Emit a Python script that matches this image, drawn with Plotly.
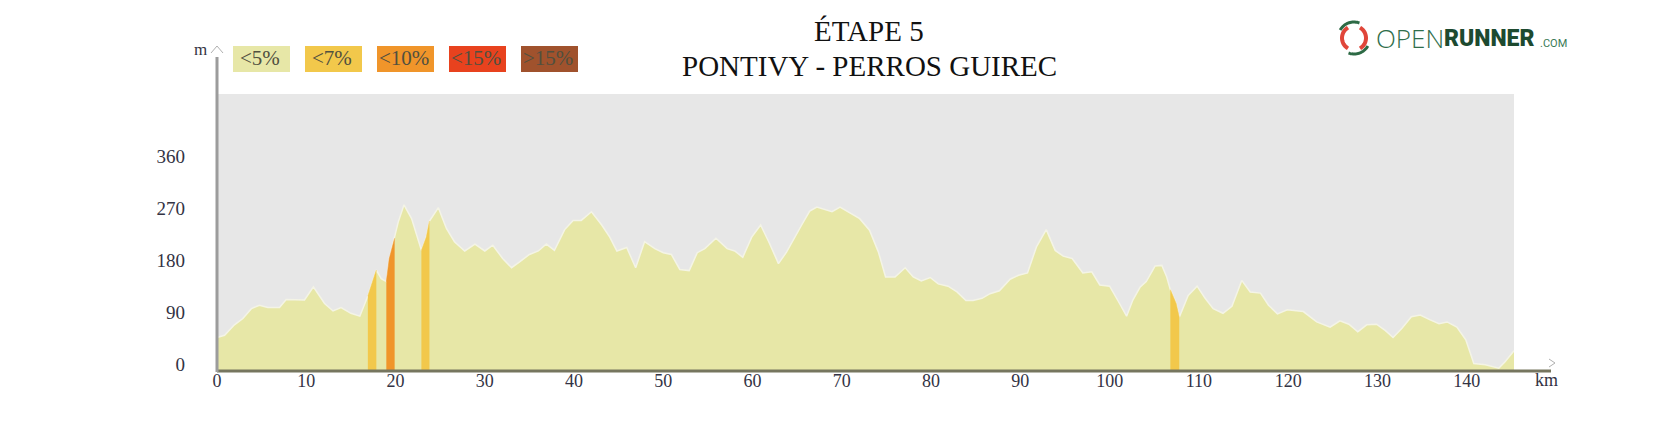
import numpy as np
import plotly.graph_objects as go

# ---------------- data ----------------
km = [0.0, 0.85, 1.95, 2.9, 3.85, 4.75, 5.7, 7.0, 7.75, 9.8, 10.8, 12.05, 13.0, 13.9, 15.0, 16.0,
      16.9, 17.5, 17.85, 18.4, 18.97, 19.3, 19.9, 20.3, 20.95, 21.8, 22.9, 23.45, 23.8, 24.8,
      25.7, 26.6, 27.75, 28.9, 30.0, 30.9, 32.0, 33.0, 33.9, 35.0, 36.0, 36.9, 37.8, 38.95,
      39.9, 40.8, 41.95, 43.1, 44.0, 44.8, 45.9, 46.9, 47.9, 49.05, 50.0, 50.9, 51.85, 52.9,
      53.8, 54.65, 55.9, 57.15, 58.0, 58.9, 59.9, 60.9, 61.9, 62.9, 63.8, 64.6, 65.5, 66.4,
      67.2, 68.9, 69.8, 70.9, 72.0, 73.1, 74.1, 74.9, 75.95, 77.1, 78.0, 78.9, 79.9, 80.8,
      81.9, 82.9, 83.9, 84.7, 85.7, 86.6, 87.65, 88.85, 89.8, 90.8, 91.8, 92.9, 93.9, 94.8,
      95.8, 97.0, 98.0, 98.9, 100.0, 101.0, 101.9, 102.6, 103.4, 104.1, 105.1, 105.85, 106.4,
      106.8, 107.45, 107.8, 108.8, 109.8, 110.7, 111.6, 112.7, 113.7, 114.8, 115.75, 116.9,
      117.8, 118.8, 119.9, 121.7, 123.2, 124.7, 125.8, 126.8, 127.8, 128.8, 129.9, 130.9,
      131.75, 132.75, 133.8, 134.8, 135.85, 136.9, 137.8, 138.9, 139.9, 140.8, 142.1, 143.6,
      144.3, 145.3]
elev = [58, 62, 80, 91, 108, 114, 110, 110, 124, 123, 146, 117, 104, 110, 100, 95,
        130, 157, 175, 160, 155, 195, 230, 258, 288, 264, 209, 232, 260, 283,
        247, 224, 208, 220, 208, 218, 195, 179, 189, 202, 208, 220, 209, 245,
        261, 261, 276, 253, 232, 208, 214, 179, 224, 212, 205, 202, 176, 174,
        205, 212, 230, 212, 208, 197, 232, 253, 221, 186, 206, 227, 253, 277,
        284, 276, 284, 274, 264, 244, 206, 163, 163, 179, 163, 156, 162, 151,
        147, 137, 122, 122, 126, 134, 139, 159, 166, 170, 215, 245, 209, 199,
        195, 170, 172, 149, 147, 120, 95, 123, 145, 155, 182, 183, 163,
        141, 117, 93, 131, 147, 126, 108, 100, 112, 157, 137, 135,
        114, 99, 106, 103, 85, 76, 87, 81, 68, 80, 81, 70,
        58, 74, 94, 97, 89, 82, 85, 76, 54, 13, 11, 5,
        16, 35]

# steep sections (km start / km end / gradient class)
band_start = [16.9, 18.97, 22.9, 106.8]
band_end = [17.85, 19.9, 23.8, 107.8]
band_class = ["<7%", "<10%", "<7%", "<7%"]

legend_labels = ["<5%", "<7%", "<10%", "<15%", ">15%"]
legend_colors = ["#e7e7a7", "#f2c84b", "#f0952a", "#e8421e", "#a0522d"]

xtick_vals = list(range(0, 141, 10))
ytick_vals = [0, 90, 180, 270, 360]
x_range = [0, 145.3]
y_range = [0, 480]

title_1 = "ÉTAPE 5"
title_2 = "PONTIVY - PERROS GUIREC"

# ---------------- layout helpers ----------------
OFF = 8                      # page body margin
W, H = 1672, 422
L, R, T, B = 209, 166, 86, 59
PW, PH = W - L - R, H - T - B


def px(x):                   # page pixel -> paper
    return (x - OFF - L) / PW


def py(y):
    return (H - B - (y - OFF)) / PH


SERIF = "Liberation Serif, Times New Roman, serif"

fig = go.Figure()

fig.add_trace(go.Scatter(
    x=km, y=elev, mode="lines", fill="tozeroy",
    fillcolor=legend_colors[0], line=dict(color="#f4f4e6", width=1.5),
    hoverinfo="skip", showlegend=False))

for s, e, c in zip(band_start, band_end, band_class):
    xs = [k for k in km if s <= k <= e]
    ys = [v for k, v in zip(km, elev) if s <= k <= e]
    col = legend_colors[legend_labels.index(c)]
    fig.add_trace(go.Scatter(
        x=xs, y=ys, mode="lines", fill="tozeroy", fillcolor=col,
        line=dict(color=col, width=0.5), hoverinfo="skip", showlegend=False))

shapes = []
annotations = []

# axis lines
shapes.append(dict(type="line", xref="paper", yref="paper",
                   x0=px(217), x1=px(1551), y0=py(371), y1=py(371),
                   line=dict(color="#76765f", width=3)))
shapes.append(dict(type="line", xref="paper", yref="paper",
                   x0=px(217), x1=px(217), y0=py(57), y1=py(372),
                   line=dict(color="#9c9c9c", width=3)))
# arrows
shapes.append(dict(type="path", xref="paper", yref="paper",
                   path=f"M {px(211)},{py(53)} L {px(217)},{py(46)} L {px(223)},{py(53)}",
                   line=dict(color="#b0b0b0", width=1)))
shapes.append(dict(type="path", xref="paper", yref="paper",
                   path=f"M {px(1549)},{py(359)} L {px(1555)},{py(363)} L {px(1549)},{py(367)}",
                   line=dict(color="#b0b0b0", width=1)))

# legend boxes
for i, (lab, col) in enumerate(zip(legend_labels, legend_colors)):
    x0 = 233 + i * 72
    shapes.append(dict(type="rect", xref="paper", yref="paper",
                       x0=px(x0), x1=px(x0 + 57), y0=py(72), y1=py(46),
                       fillcolor=col, line=dict(width=0)))
    annotations.append(dict(xref="paper", yref="paper", x=px(x0 + 27), y=py(58),
                            text=lab, showarrow=False, xanchor="center", yanchor="middle",
                            font=dict(family=SERIF, size=21, color="#50503f")))

annotations.append(dict(xref="paper", yref="paper", x=px(200), y=py(50), text="m",
                        showarrow=False, xanchor="center", yanchor="middle",
                        font=dict(family=SERIF, size=17, color="#333344")))
annotations.append(dict(xref="paper", yref="paper", x=px(1546), y=py(380), text="km",
                        showarrow=False, xanchor="center", yanchor="middle",
                        font=dict(family=SERIF, size=18, color="#333344")))

# titles
annotations.append(dict(xref="paper", yref="paper", x=px(869), y=py(31), text=title_1,
                        showarrow=False, xanchor="center", yanchor="middle",
                        font=dict(family=SERIF, size=29, color="#111111")))
annotations.append(dict(xref="paper", yref="paper", x=px(869), y=py(66), text=title_2,
                        showarrow=False, xanchor="center", yanchor="middle",
                        font=dict(family=SERIF, size=29, color="#111111")))

# logo icon (decorative arcs)
cx, cy, rr = 1354, 38, 12


def arc(a0, a1, r):
    a = np.radians(np.linspace(a0, a1, 20))
    pts = [(px(cx + r * np.cos(t)), py(cy - r * np.sin(t))) for t in a]
    return "M " + " L ".join(f"{x:.5f},{y:.5f}" for x, y in pts)


shapes.append(dict(type="path", xref="paper", yref="paper", path=arc(120, 240, rr),
                   line=dict(color="#e0463a", width=4)))
shapes.append(dict(type="path", xref="paper", yref="paper", path=arc(-60, 60, rr),
                   line=dict(color="#e0463a", width=4)))
shapes.append(dict(type="path", xref="paper", yref="paper", path=arc(70, 150, rr + 4),
                   line=dict(color="#2d6a45", width=3)))
shapes.append(dict(type="path", xref="paper", yref="paper", path=arc(250, 330, rr + 4),
                   line=dict(color="#2d6a45", width=3)))

annotations.append(dict(xref="paper", yref="paper", x=px(1374), y=py(38), text="OPEN",
                        showarrow=False, xanchor="left", yanchor="middle",
                        font=dict(family="Open Sans", size=26, color="#2f6e4b", weight=300)))
annotations.append(dict(xref="paper", yref="paper", x=px(1442), y=py(38), text="RUNNER",
                        showarrow=False, xanchor="left", yanchor="middle",
                        font=dict(family="Roboto", size=23, color="#1d4a30", weight=900)))
annotations.append(dict(xref="paper", yref="paper", x=px(1538), y=py(43), text=".COM",
                        showarrow=False, xanchor="left", yanchor="middle",
                        font=dict(family="Roboto", size=11, color="#3a7a55")))

fig.update_layout(
    width=W, height=H,
    margin=dict(l=L, r=R, t=T, b=B, pad=0),
    paper_bgcolor="white", plot_bgcolor="#e7e7e7",
    showlegend=False,
    shapes=shapes, annotations=annotations,
    xaxis=dict(range=x_range, tickvals=xtick_vals, showgrid=False, zeroline=False,
               showline=False, ticks="", fixedrange=True, ticklabelstandoff=-3,
               tickfont=dict(family=SERIF, size=18, color="#333344")),
    yaxis=dict(range=y_range, tickvals=ytick_vals, showgrid=False, zeroline=False,
               showline=False, ticks="", fixedrange=True, ticklabelshift=-7,
               ticklabelstandoff=31,
               tickfont=dict(family=SERIF, size=19, color="#333344")),
)

fig.write_html("out.html")
